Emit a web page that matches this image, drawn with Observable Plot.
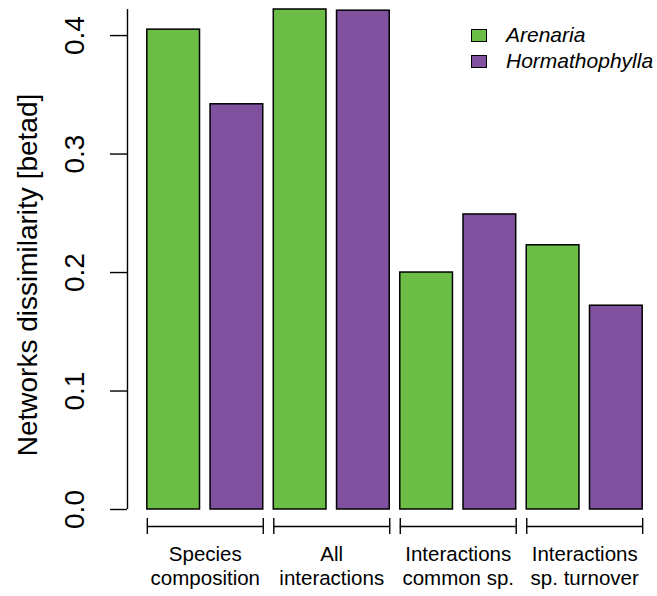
<!DOCTYPE html>
<html><head><meta charset="utf-8">
<script src="https://cdn.jsdelivr.net/npm/d3@7"></script>
<script src="https://cdn.jsdelivr.net/npm/@observablehq/plot@0.6"></script>
<style>
html,body{margin:0;padding:0;background:#fff;}
#chart{position:relative;width:657px;height:596px;font-family:"Liberation Sans",Arial,Helvetica,sans-serif;}
#legend{position:absolute;left:0;top:0;}
.sw{position:absolute;width:16px;height:13px;box-sizing:border-box;border:1.5px solid #000;}
.lt{position:absolute;font-style:italic;font-size:21px;line-height:21px;white-space:nowrap;color:#000;}
</style></head><body><div id="chart"><div id="legend"></div></div>
<script>
const groups = ["Species\ncomposition", "All\ninteractions", "Interactions\ncommon sp.", "Interactions\nsp. turnover"];
const seriesNames = ["Arenaria", "Hormathophylla"];
const arenaria = [0.405, 0.422, 0.200, 0.223];
const hormathophylla = [0.342, 0.421, 0.249, 0.172];
const seriesColors = ["#6cbd45", "#7f519f"];
const yTicks = [0, 0.1, 0.2, 0.3, 0.4];
const yLabel = "Networks dissimilarity [betad]";

// R barplot layout: bar width 1, space 0.2
const space = 0.2;
const rows = [];
groups.forEach((g, gi) => {
  [arenaria, hormathophylla].forEach((vals, si) => {
    const i = gi * 2 + si;
    const left = space + i * (1 + space);
    rows.push({group: g, series: seriesNames[si], value: vals[gi], x1: left, x2: left + 1});
  });
});
const brackets = groups.map((g, gi) => ({group: g, x1: rows[gi * 2].x1, x2: rows[gi * 2 + 1].x2}));
const bracketEnds = brackets.flatMap(b => [b.x1, b.x2]);
const xmin = rows[0].x1, xmax = rows[rows.length - 1].x2;
const pad = 0.04 * (xmax - xmin);
const ymax = d3.max(rows, d => d.value);

const W = 657, H = 596;
const chart = Plot.plot({
  width: W, height: H,
  marginLeft: 127, marginRight: 0, marginTop: 9, marginBottom: 87,
  style: {fontFamily: '"Liberation Sans", Arial, Helvetica, sans-serif', color: "#000", background: "#fff", overflow: "visible"},
  x: {type: "linear", domain: [xmin - pad, xmax + pad], range: [127, 662], axis: null},
  y: {domain: [0, ymax], range: [509, 9], axis: null},
  color: {domain: seriesNames, range: seriesColors},
  marks: [
    Plot.rectY(rows, {x1: "x1", x2: "x2", y1: 0, y2: "value", fill: "series", stroke: "#000", strokeWidth: 1.5}),
    Plot.ruleX([xmin - pad], {y1: 0, y2: ymax, stroke: "#000", strokeWidth: 1.4}),
    Plot.axisY(yTicks, {tickSize: 17, tickPadding: 27, tickRotate: -90, tickFormat: d3.format(".1f"), fontSize: 28, strokeWidth: 1.4, stroke: "#000", fill: "#000", label: null}),
    Plot.text([yLabel], {frameAnchor: "left", rotate: -90, dx: -91, dy: 15.5, fontSize: 28, textAnchor: "middle", lineAnchor: "bottom", fill: "#000"}),
    Plot.ruleY(brackets, {x1: "x1", x2: "x2", y: () => 0, dy: 17, stroke: "#000", strokeWidth: 1.4}),
    Plot.ruleX(bracketEnds, {x: d => d, y1: () => 0, y2: () => 0, insetTop: -8, insetBottom: -8, dy: 17, stroke: "#000", strokeWidth: 1.4}),
    Plot.text(brackets, {x: d => (d.x1 + d.x2) / 2, y: () => 0, text: "group", dy: 34, lineAnchor: "top", fontSize: 20.5, lineHeight: 1.17, fill: "#000"})
  ]
});
document.getElementById("chart").prepend(chart);

// legend
const legend = document.getElementById("legend");
seriesNames.forEach((name, i) => {
  const sw = document.createElement("div");
  sw.className = "sw";
  sw.style.left = "471px";
  sw.style.top = (29 + i * 25.5) + "px";
  sw.style.background = seriesColors[i];
  legend.appendChild(sw);
  const t = document.createElement("div");
  t.className = "lt";
  t.style.left = "506px";
  t.style.top = (24 + i * 25.5) + "px";
  t.textContent = name;
  legend.appendChild(t);
});
</script></body></html>
